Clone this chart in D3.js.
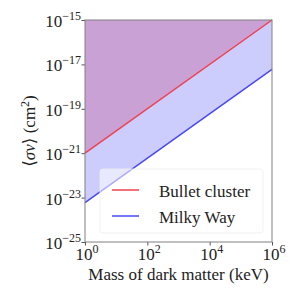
<!DOCTYPE html>
<html>
<head>
<meta charset="utf-8">
<script src="https://cdn.jsdelivr.net/npm/d3@7"></script>
<style>
  body { margin: 0; background: #fff; }
  svg { display: block; font-family: "Liberation Serif", "DejaVu Serif", serif; }
</style>
</head>
<body>
<svg id="chart" width="304" height="304"></svg>
<script>
// masses in keV, cross sections in cm^2
var masses = [1, 1e6];
var bulletCluster = [1e-21, 1e-15];
var milkyWay = [6e-24, 6e-18];
var yTop = 1e-15;

var xTicks = [1e0, 1e2, 1e4, 1e6];
var xExps = ['0', '2', '4', '6'];
var yTicks = [1e-25, 1e-23, 1e-21, 1e-19, 1e-17, 1e-15];
var yExps = ['\u221225', '\u221223', '\u221221', '\u221219', '\u221217', '\u221215'];

var series = [
  { name: 'Bullet cluster', color: '#f0404f', values: bulletCluster },
  { name: 'Milky Way', color: '#4848f8', values: milkyWay }
];

var margin = {top: 20, right: 32, bottom: 62, left: 85},
    width = 304 - margin.left - margin.right,
    height = 304 - margin.top - margin.bottom;

var svg = d3.select('#chart');
var chart = svg.append('g')
    .attr('transform', 'translate(' + margin.left + ',' + margin.top + ')');

var x = d3.scaleLog().domain([1, 1e6]).range([0, width]);
var y = d3.scaleLog().domain([1e-25, 1e-15]).range([height, 0]);

function pts(vals) {
  return masses.map(function(m, i) { return [m, vals[i]]; });
}

// purple region above the bullet cluster line
chart.append('path')
    .attr('fill', '#c9a1d5')
    .attr('d', d3.area()
      .x(function(d) { return x(d[0]); })
      .y0(function() { return y(yTop); })
      .y1(function(d) { return y(d[1]); })(pts(bulletCluster)));

// light blue band between the two lines
var band = masses.map(function(m, i) { return [m, milkyWay[i], bulletCluster[i]]; });
chart.append('path')
    .attr('fill', '#cdcdfd')
    .attr('d', d3.area()
      .x(function(d) { return x(d[0]); })
      .y0(function(d) { return y(d[1]); })
      .y1(function(d) { return y(d[2]); })(band));

var line = d3.line()
    .x(function(d) { return x(d[0]); })
    .y(function(d) { return y(d[1]); });

series.forEach(function(s) {
  chart.append('path')
      .attr('fill', 'none')
      .attr('stroke', s.color)
      .attr('stroke-width', 1.5)
      .attr('d', line(pts(s.values)));
});

// legend
var legend = chart.append('g').attr('transform', 'translate(15,149)');
legend.append('rect')
    .attr('width', 163).attr('height', 64).attr('rx', 3)
    .attr('fill', '#fff').attr('fill-opacity', 0.55)
    .attr('stroke', '#eeeeee').attr('stroke-width', 0.8);
series.forEach(function(s, i) {
  var row = legend.append('g').attr('transform', 'translate(0,' + (21 + i * 26) + ')');
  row.append('line')
      .attr('x1', 12).attr('x2', 39)
      .attr('stroke', s.color).attr('stroke-width', 1.5);
  row.append('text')
      .attr('x', 59).attr('y', 7)
      .attr('font-size', 17).attr('fill', '#222')
      .text(s.name);
});

// axes
var xAxis = d3.axisBottom(x).tickValues(xTicks).tickSize(3.5).tickFormat('');
var yAxis = d3.axisLeft(y).tickValues(yTicks).tickSize(3.5).tickFormat('');

var gx = chart.append('g').attr('transform', 'translate(0,' + height + ')').call(xAxis);
var gy = chart.append('g').call(yAxis);
[gx, gy].forEach(function(g) {
  g.select('.domain').remove();
  g.selectAll('.tick line').attr('stroke', '#555');
});

chart.append('rect')
    .attr('width', width).attr('height', height)
    .attr('fill', 'none').attr('stroke', '#808080').attr('stroke-width', 1);

// tick labels as 10^n
xTicks.forEach(function(t, i) {
  var tx = chart.append('text')
      .attr('x', x(t) + 2).attr('y', height + 18)
      .attr('text-anchor', 'middle')
      .attr('font-size', 17).attr('fill', '#222');
  tx.append('tspan').text('10');
  tx.append('tspan').attr('dy', -7).attr('font-size', 12).text(xExps[i]);
});

yTicks.forEach(function(t, i) {
  var ty = chart.append('text')
      .attr('x', -4).attr('y', y(t) + 7)
      .attr('text-anchor', 'end')
      .attr('font-size', 17).attr('fill', '#222');
  ty.append('tspan').text('10');
  ty.append('tspan').attr('dy', -7).attr('font-size', 12).text(yExps[i]);
});

// axis titles
chart.append('text')
    .attr('x', width / 2).attr('y', height + 38)
    .attr('text-anchor', 'middle')
    .attr('font-size', 17).attr('fill', '#222')
    .text('Mass of dark matter (keV)');

var yl = chart.append('text')
    .attr('transform', 'translate(-50,' + (height / 2) + ') rotate(-90)')
    .attr('text-anchor', 'middle')
    .attr('font-size', 17).attr('fill', '#222');
yl.append('tspan').text('\u27E8');
yl.append('tspan').attr('font-style', 'italic').text('\u03C3v');
yl.append('tspan').text('\u27E9 (cm');
yl.append('tspan').attr('dy', -6).attr('font-size', 12).text('2');
yl.append('tspan').attr('dy', 6).text(')');
</script>
</body>
</html>
